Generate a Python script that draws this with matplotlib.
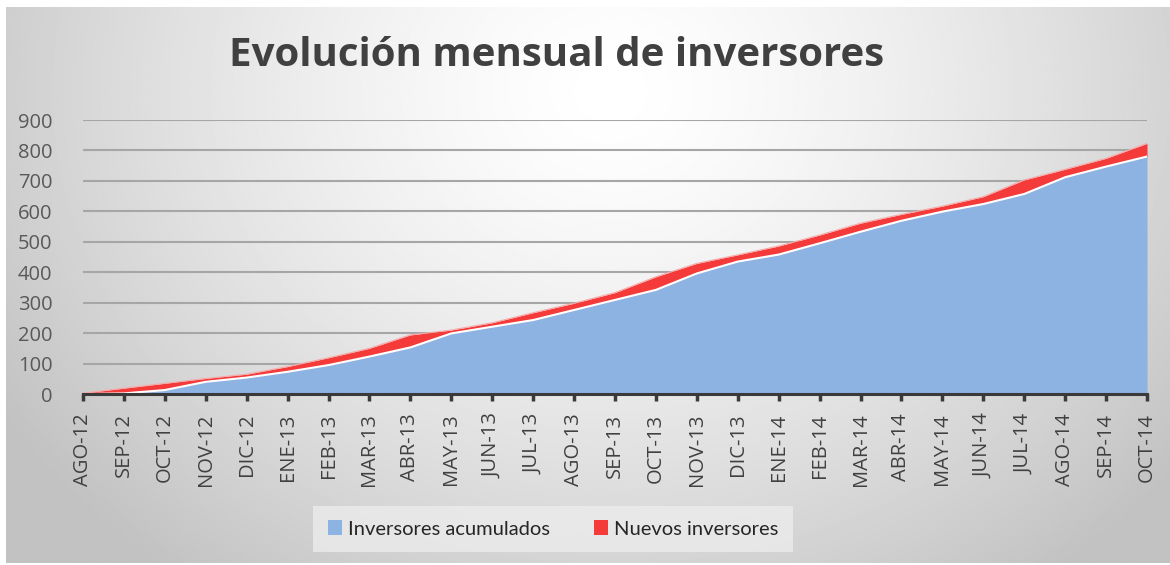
import numpy as np
import matplotlib
matplotlib.use('Agg')
import matplotlib.pyplot as plt
from matplotlib.patches import Patch

meses = ['AGO-12', 'SEP-12', 'OCT-12', 'NOV-12', 'DIC-12', 'ENE-13', 'FEB-13',
         'MAR-13', 'ABR-13', 'MAY-13', 'JUN-13', 'JUL-13', 'AGO-13', 'SEP-13',
         'OCT-13', 'NOV-13', 'DIC-13', 'ENE-14', 'FEB-14', 'MAR-14', 'ABR-14',
         'MAY-14', 'JUN-14', 'JUL-14', 'AGO-14', 'SEP-14', 'OCT-14']
acumulados = [0, 2, 13, 40, 54, 73, 95, 123, 153, 199, 221, 243, 276, 309,
              342, 396, 435, 458, 495, 533, 569, 599, 624, 657, 712, 747, 780]
nuevos = [3, 17, 22, 11, 11, 17, 24, 27, 41, 11, 13, 24, 22, 24,
          43, 33, 22, 28, 27, 28, 21, 18, 24, 46, 26, 27, 43]

W, H = 1170, 565
fig = plt.figure(figsize=(W / 100, H / 100), dpi=100)
fig.patch.set_facecolor('white')

# fondo con degradado radial
bg = fig.add_axes([6 / W, 2 / H, 1 - 6 / W, 1 - 9 / H])
yy, xx = np.mgrid[0:1:300j, 0:1:600j]
d = np.sqrt(((xx - 0.52) / 0.62) ** 2 + ((yy - 0.15) / 1.1) ** 2)
g = 1.0 - 0.24 * np.clip(d, 0, 1) ** 1.4
bg.imshow(g, cmap='gray', vmin=0, vmax=1, aspect='auto', extent=[0, 1, 1, 0])
bg.set_axis_off()

ax = fig.add_axes([83 / W, 1 - 394 / H, 1064 / W, 274 / H])
ax.patch.set_alpha(0)
x = np.arange(len(meses))
total = np.array(acumulados) + np.array(nuevos)

ax.fill_between(x, 0, acumulados, color='#8DB3E2', zorder=3, lw=0)
ax.fill_between(x, acumulados, total, color='#F53A3A', zorder=3, lw=0)
ax.plot(x, acumulados, color='white', lw=1.5, zorder=4)
ax.plot(x, total, color='#F7A8A8', lw=0.8, zorder=4)

ax.set_xlim(0, len(meses) - 1)
ax.set_ylim(0, 900)
ax.set_yticks(range(0, 901, 100))
ax.yaxis.grid(True, color='#a6a6a6', lw=1.5, zorder=1)
ax.set_axisbelow(True)
for s in ['top', 'right', 'left']:
    ax.spines[s].set_visible(False)
ax.spines['bottom'].set_color('#3a3a3a')
ax.spines['bottom'].set_linewidth(2.2)
ax.spines['bottom'].set_zorder(5)

ax.set_xticks(x)
ax.set_xticklabels(meses, rotation=90, fontsize=14.5, color='#404040',
                   family='Open Sans')
ax.tick_params(axis='x', length=5, width=2.5, color='#3a3a3a', pad=9)
ax.tick_params(axis='y', length=0, pad=22, labelsize=14.5, labelcolor='#595959')
for t in ax.get_yticklabels():
    t.set_family('Open Sans')

fig.text(557 / W, 1 - 55 / H, 'Evolución mensual de inversores',
         ha='center', va='center', fontsize=29, fontweight='bold',
         color='#404040', family='Open Sans')

handles = [Patch(facecolor='#8DB3E2', label='Inversores acumulados'),
           Patch(facecolor='#F53A3A', label='Nuevos inversores')]
leg = fig.legend(handles=handles, loc='center', ncol=2,
                 bbox_to_anchor=(553 / W, 1 - 529 / H), frameon=True,
                 fancybox=False, handlelength=0.7, handleheight=0.7,
                 handletextpad=0.3, columnspacing=2.2, borderpad=0.7,
                 prop={'family': 'Lato', 'size': 14.5})
leg.get_frame().set_facecolor('#ececec')
leg.get_frame().set_edgecolor('none')
leg.get_frame().set_alpha(0.8)
for t in leg.get_texts():
    t.set_color('#262626')

fig.savefig('out.png', dpi=100)
